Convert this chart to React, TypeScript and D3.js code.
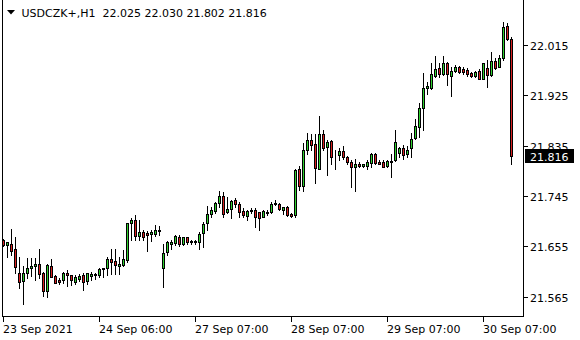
import React from "react";
import * as d3 from "d3";

const open = [21.666,21.658,21.660,21.650,21.607,21.593,21.607,21.617,21.619,21.623,21.608,21.575,21.620,21.602,21.595,21.595,21.608,21.604,21.592,21.596,21.604,21.593,21.602,21.604,21.604,21.614,21.617,21.632,21.628,21.620,21.621,21.630,21.697,21.702,21.674,21.680,21.678,21.677,21.677,21.683,21.616,21.645,21.660,21.661,21.672,21.660,21.671,21.664,21.662,21.663,21.678,21.696,21.712,21.719,21.732,21.745,21.716,21.721,21.738,21.730,21.719,21.710,21.718,21.720,21.716,21.708,21.715,21.717,21.733,21.730,21.720,21.725,21.712,21.711,21.793,21.763,21.827,21.846,21.838,21.793,21.856,21.832,21.843,21.821,21.819,21.825,21.815,21.806,21.796,21.802,21.799,21.799,21.804,21.820,21.806,21.806,21.799,21.806,21.809,21.822,21.831,21.821,21.830,21.848,21.869,21.902,21.938,21.939,21.960,21.973,21.964,21.983,21.960,21.969,21.975,21.972,21.970,21.965,21.960,21.969,21.955,21.973,21.961,21.986,21.976,21.991,22.049,22.025];
const high = [21.668,21.663,21.686,21.672,21.636,21.620,21.634,21.634,21.634,21.650,21.610,21.623,21.632,21.604,21.598,21.610,21.613,21.604,21.604,21.605,21.608,21.608,21.610,21.607,21.616,21.616,21.636,21.651,21.651,21.636,21.648,21.697,21.705,21.711,21.702,21.684,21.683,21.684,21.693,21.691,21.659,21.664,21.667,21.675,21.675,21.672,21.672,21.667,21.666,21.681,21.699,21.727,21.725,21.735,21.754,21.753,21.744,21.738,21.741,21.735,21.723,21.720,21.723,21.723,21.717,21.720,21.720,21.735,21.738,21.732,21.726,21.727,21.715,21.793,21.799,21.840,21.857,21.856,21.856,21.888,21.863,21.846,21.846,21.827,21.830,21.834,21.816,21.809,21.811,21.806,21.803,21.809,21.822,21.822,21.809,21.809,21.809,21.821,21.863,21.832,21.836,21.834,21.857,21.882,21.912,21.965,21.949,21.983,21.995,21.983,21.995,21.985,21.976,21.979,21.977,21.976,21.973,21.967,21.969,21.972,21.983,21.989,22.003,21.991,21.997,22.057,22.054,22.030];
const low = [21.655,21.636,21.639,21.607,21.581,21.552,21.598,21.602,21.595,21.598,21.567,21.565,21.600,21.589,21.588,21.590,21.584,21.586,21.587,21.593,21.577,21.587,21.595,21.596,21.601,21.601,21.604,21.605,21.605,21.605,21.620,21.627,21.666,21.666,21.666,21.667,21.647,21.665,21.674,21.675,21.582,21.639,21.651,21.657,21.655,21.657,21.660,21.659,21.659,21.651,21.654,21.684,21.708,21.715,21.726,21.708,21.715,21.705,21.725,21.708,21.708,21.702,21.714,21.690,21.684,21.707,21.711,21.715,21.729,21.720,21.713,21.709,21.708,21.707,21.756,21.754,21.821,21.828,21.768,21.793,21.827,21.782,21.803,21.794,21.809,21.812,21.803,21.762,21.754,21.796,21.797,21.794,21.797,21.802,21.802,21.796,21.797,21.779,21.808,21.814,21.812,21.815,21.815,21.847,21.851,21.863,21.927,21.936,21.957,21.958,21.961,21.943,21.924,21.967,21.965,21.964,21.960,21.958,21.958,21.954,21.954,21.940,21.960,21.972,21.975,21.989,22.024,21.802];
const close = [21.657,21.662,21.647,21.618,21.592,21.608,21.616,21.620,21.623,21.605,21.575,21.621,21.601,21.590,21.592,21.607,21.604,21.595,21.600,21.602,21.592,21.607,21.605,21.605,21.614,21.616,21.632,21.627,21.622,21.624,21.633,21.696,21.702,21.674,21.680,21.672,21.675,21.680,21.685,21.685,21.643,21.663,21.662,21.673,21.659,21.671,21.662,21.662,21.664,21.677,21.695,21.712,21.720,21.732,21.745,21.713,21.722,21.736,21.730,21.717,21.711,21.718,21.720,21.708,21.706,21.718,21.717,21.730,21.730,21.721,21.725,21.711,21.710,21.791,21.763,21.827,21.846,21.837,21.795,21.856,21.830,21.842,21.815,21.820,21.825,21.814,21.806,21.797,21.803,21.799,21.802,21.806,21.820,21.804,21.803,21.797,21.808,21.808,21.842,21.830,21.819,21.828,21.847,21.870,21.902,21.938,21.942,21.963,21.972,21.963,21.982,21.964,21.968,21.976,21.967,21.967,21.964,21.960,21.967,21.955,21.982,21.961,21.986,21.974,21.991,22.048,22.025,21.816];

const xTickIndex = [0, 24, 48, 72, 96, 120];
const xTickLabels = ["23 Sep 2021", "24 Sep 06:00", "27 Sep 07:00", "28 Sep 07:00", "29 Sep 07:00", "30 Sep 07:00"];
const yTicks = [21.565, 21.655, 21.745, 21.835, 21.925, 22.015];
const titleText = "USDCZK+,H1  22.025 22.030 21.802 21.816";
const lastPrice = 21.816;

const FONT = "'DejaVu Sans', Tahoma, sans-serif";
const BULL = "#2fd12f";
const BEAR = "#d82020";

export default function App() {
  const W = 580, H = 340;
  const left = 2.5, right = 523.5, bottom = 316.5;
  const n = open.length;
  const x = d3.scaleLinear().domain([0, n - 1]).range([3.5, 3.5 + 4 * (n - 1)]);
  const y = d3.scaleLinear().domain([21.565, 22.015]).range([296.7, 45]);
  const fmt = d3.format(".3f");

  return (
    <svg width={W} height={H} style={{ position: "absolute", left: 0, top: 0, background: "#fff" }}>
      <defs>
        <clipPath id="plot">
          <rect x={3} y={0} width={520} height={316} />
        </clipPath>
      </defs>
      <rect x={0} y={0} width={W} height={H} fill="#fff" />
      <g clipPath="url(#plot)" shapeRendering="crispEdges">
        {open.map((o, i) => {
          const c = close[i];
          const cx = x(i);
          const yh = Math.round(y(high[i]));
          const yl = Math.round(y(low[i]));
          const yt = Math.round(y(Math.max(o, c)));
          const yb = Math.round(y(Math.min(o, c)));
          const up = c >= o;
          return (
            <g key={i}>
              <line x1={cx} x2={cx} y1={yh} y2={yl + 1} stroke="#000" strokeWidth={1} />
              <rect x={cx - 1} y={yt + 0.5} width={2} height={Math.max(yb - yt, 0)}
                fill={up ? BULL : BEAR} stroke="#000" strokeWidth={1} />
            </g>
          );
        })}
      </g>
      <g shapeRendering="crispEdges" stroke="#000" strokeWidth={1}>
        <line x1={left} x2={left} y1={0} y2={bottom} />
        <line x1={left} x2={right} y1={bottom} y2={bottom} />
        <line x1={right} x2={right} y1={0} y2={bottom} />
        {xTickIndex.map((t) => (
          <line key={t} x1={x(t)} x2={x(t)} y1={bottom} y2={bottom + 5} />
        ))}
        {yTicks.map((t) => (
          <line key={t} x1={right} x2={right + 4} y1={Math.round(y(t)) + 0.5} y2={Math.round(y(t)) + 0.5} />
        ))}
      </g>
      <g fontFamily={FONT} fontSize={11} fill="#000">
        {xTickIndex.map((t, k) => (
          <text key={t} x={x(t) - 0.5} y={333}>{xTickLabels[k]}</text>
        ))}
        {yTicks.map((t) => (
          <text key={t} x={530} y={Math.round(y(t)) + 4.5}>{fmt(t)}</text>
        ))}
        <rect x={525} y={149} width={49} height={14} fill="#000" />
        <text x={530} y={Math.round(y(lastPrice)) + 4.5} fill="#fff">{fmt(lastPrice)}</text>
        <polygon points="7,10 15,10 11,14.5" fill="#000" />
        <text x={21.5} y={16.5} xmlSpace="preserve" style={{ whiteSpace: "pre" }}>{titleText}</text>
      </g>
    </svg>
  );
}
